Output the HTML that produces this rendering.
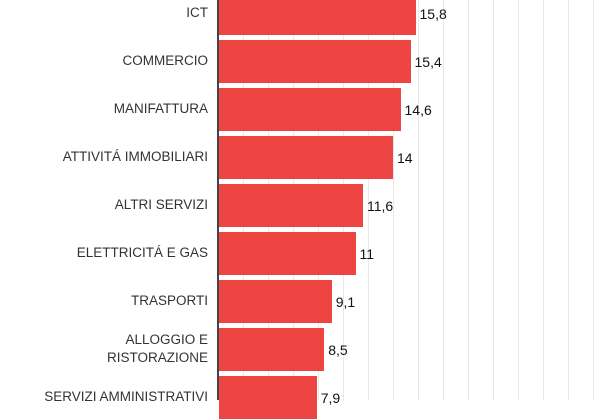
<!DOCTYPE html><html><head><style>
body{margin:0;width:600px;height:400px;overflow:hidden;background:#fff;font-family:"Liberation Sans",sans-serif}
.g{position:absolute;top:0;height:400px;width:1px;background:#e8e8e8}
.b{position:absolute;left:219px;height:43px;background:#ee4442}
.l{position:absolute;right:392px;width:210px;text-align:right;font-size:13.5px;color:#333;line-height:18px;transform:translateY(-50%)}
.v{position:absolute;font-size:14px;color:#111;transform:translateY(-50%)}
</style></head><body>
<div id="c"></div>
<div style="position:absolute;left:217px;top:0;width:2px;height:400px;background:#444"></div>
<script>
var c=document.getElementById('c'),h='';
for(var x=243;x<600;x+=25)h+='<div class="g" style="left:'+x+'px"></div>';
var d=[["ICT",15.8],["COMMERCIO",15.4],["MANIFATTURA",14.6],["ATTIVITÁ IMMOBILIARI",14],["ALTRI SERVIZI",11.6],["ELETTRICITÁ E GAS",11],["TRASPORTI",9.1],["ALLOGGIO E<br>RISTORAZIONE",8.5],["SERVIZI AMMINISTRATIVI",7.9]];
d.forEach(function(r,i){var t=-8+48*i,cy=t+21.5,w=r[1]*12.5-1;
h+='<div class="b" style="top:'+t+'px;width:'+w+'px"></div>';
h+='<div class="l" style="top:'+(cy-1)+'px">'+r[0]+'</div>';
h+='<div class="v" style="top:'+cy+'px;left:'+(219+w+4)+'px">'+String(r[1]).replace('.',',')+'</div>';});
c.innerHTML=h;
</script></body></html>
